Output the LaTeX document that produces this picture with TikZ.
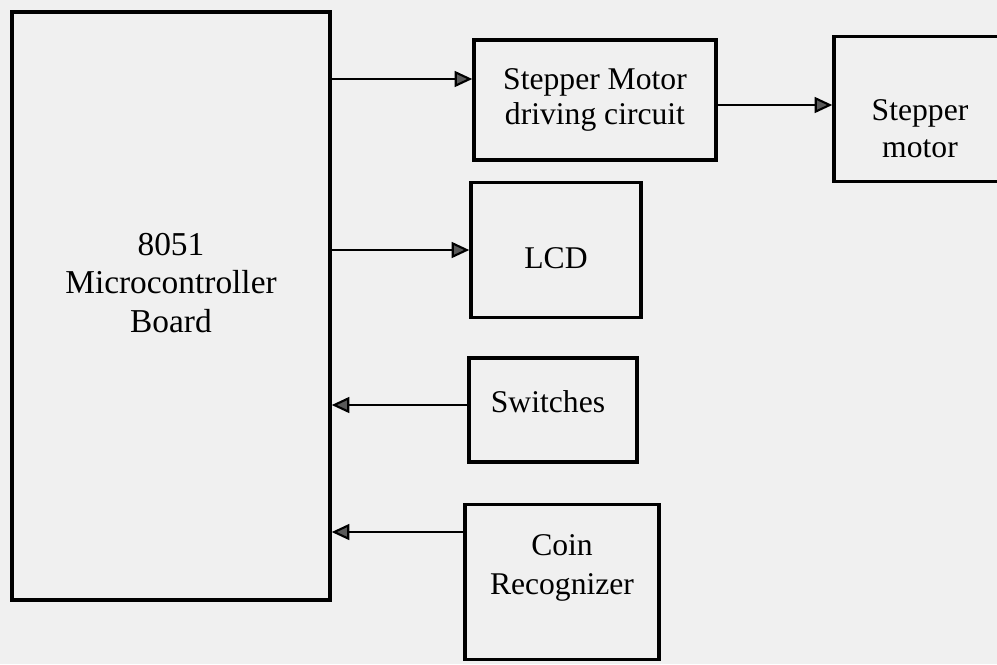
\documentclass[tikz,border=0pt]{standalone}
\usepackage{fontspec}
\setmainfont{Liberation Serif}
\usetikzlibrary{arrows.meta}

\begin{document}
\begin{tikzpicture}[x=0.02cm,y=-0.02cm,
    blk/.style={draw, line width=2pt, rectangle, inner sep=0pt},
    lbl/.style={align=center, font=\fontsize{18}{21}\selectfont},
    arr/.style={line width=1.2pt, -{Triangle[length=10pt,width=9pt,fill=black!65]}}]
        \useasboundingbox (0,0) rectangle (997,664);
        \fill[black!6] (0,0) rectangle (997,664);
        % blocks
        \node[blk, minimum width=6.36cm, minimum height=11.76cm] (mcu) at (171,306) {};
        \node[blk, minimum width=4.84cm, minimum height=2.4cm] (drv) at (595,100) {};
        \node[blk, minimum width=3.44cm, minimum height=2.9cm] (motor) at (920,109) {};
        \node[blk, minimum width=3.4cm, minimum height=2.7cm] (lcd) at (556,250) {};
        \node[blk, minimum width=3.36cm, minimum height=2.08cm] (sw) at (553,410) {};
        \node[blk, minimum width=3.88cm, minimum height=3.1cm] (coin) at (562,582) {};
        % texts
        \node[lbl, font=\fontsize{19}{22}\selectfont] (mcutxt) at (171,283) {8051\\Microcontroller\\Board};
        \node[lbl, font=\fontsize{18}{19.5}\selectfont] (drvtxt) at (595,100) {Stepper Motor\\driving circuit};
        \node[lbl] (motortxt) at (920,129) {Stepper\\motor};
        \node[lbl] (lcdtxt) at (556,258) {LCD};
        \node[lbl] (swtxt) at (548,402) {Switches};
        \node[lbl, font=\fontsize{18}{22}\selectfont] (cointxt) at (562,568) {Coin\\Recognizer};
        % connectors
        \draw[arr] ([yshift=0.42cm]drv.west -| mcu.east) -- ([yshift=0.42cm]drv.west);
        \draw[arr] ([yshift=-0.1cm]drv.east) -- ([yshift=-0.1cm]drv.east -| motor.west);
        \draw[arr] (lcd.west -| mcu.east) -- (lcd.west);
        \draw[arr] ([yshift=0.1cm]sw.west) -- ([yshift=0.1cm]sw.west -| mcu.east);
        \draw[arr] ([yshift=1cm]coin.west) -- ([yshift=1cm]coin.west -| mcu.east);
    \end{tikzpicture}
\end{document}
